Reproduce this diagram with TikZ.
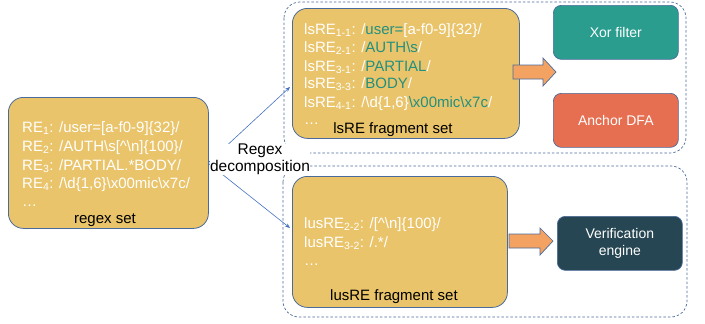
\documentclass[tikz,border=0pt]{standalone}
\usepackage{fontspec}
\setmainfont{Liberation Sans}
\usetikzlibrary{arrows.meta}
\definecolor{ybox}{HTML}{E9C46A}
\definecolor{bord}{HTML}{4A6A9B}
\definecolor{tealc}{HTML}{2A9D8F}
\definecolor{redc}{HTML}{E76F51}
\definecolor{darkc}{HTML}{264653}
\definecolor{orc}{HTML}{F4A261}
\definecolor{bluec}{HTML}{4472C4}
\definecolor{gtext}{HTML}{23907F}
\tikzset{
  ybox/.style={draw=bord, line width=0.8pt, fill=ybox, rounded corners=15pt, anchor=north west, inner sep=0pt},
  grp/.style={draw=bord, line width=0.7pt, dash pattern=on 2.5pt off 2pt, rounded corners=16pt},
  cbox/.style={draw=bord, line width=0.7pt, rounded corners=8pt, anchor=north west, minimum width=125pt, minimum height=54pt, inner sep=0pt},
  ctext/.style={text=white, font=\fontsize{14}{17}\selectfont, align=center},
  wt/.style={text=white, anchor=base west, inner sep=0pt, font=\fontsize{15}{18}\selectfont},
  lbl/.style={text=black, anchor=base, inner sep=0pt, font=\fontsize{15}{18}\selectfont},
  barrow/.style={draw=bord, line width=0.7pt, fill=orc},
  blarrow/.style={draw=bluec, line width=0.6pt, -{Stealth[length=5pt,width=4pt]}}
}
\newcommand{\gr}[1]{\textcolor{gtext}{#1}}
\newcommand{\bs}{\textbackslash}
\begin{document}
\begin{tikzpicture}[x=1pt,y=-1pt]
\useasboundingbox (0,0) rectangle (705,324);
% group boxes
\draw[grp] (284,2) rectangle (686,153);
\draw[grp] (283,166) rectangle (687,317);
% regex set
\node[ybox, minimum width=200pt, minimum height=131pt] (rs) at (8,97) {};
\node[wt] (re1) at (22,132.5) {RE\textsubscript{1}: /user=[a-f0-9]\{32\}/};
\node[wt] (re2) at (22,151.5) {RE\textsubscript{2}: /AUTH\bs s[\textasciicircum\bs n]\{100\}/};
\node[wt] (re3) at (22,170.5) {RE\textsubscript{3}: /PARTIAL.*BODY/};
\node[wt] (re4) at (22,188.5) {RE\textsubscript{4}: /\bs d\{1,6\}\bs x00mic\bs x7c/};
\node[wt] (red) at (22,206) {\dots};
\node[lbl] (rsl) at (105,223) {regex set};
% lsRE
\node[ybox, minimum width=227pt, minimum height=130pt] (ls) at (292,8) {};
\node[wt] (ls1) at (304,34.5) {lsRE\textsubscript{1-1}: /\gr{user=}[a-f0-9]\{32\}/};
\node[wt] (ls2) at (304,52.5) {lsRE\textsubscript{2-1}: /\gr{AUTH\bs s}/};
\node[wt] (ls3) at (304,71.5) {lsRE\textsubscript{3-1}: /\gr{PARTIAL}/};
\node[wt] (ls4) at (304,88.5) {lsRE\textsubscript{3-3}: /\gr{BODY}/};
\node[wt] (ls5) at (304,107.5) {lsRE\textsubscript{4-1}: /\bs d\{1,6\}\gr{\bs x00mic\bs x7c}/};
\node[wt] (lsd) at (304,124) {\dots};
\node[lbl] (lsl) at (393,133.5) {lsRE fragment set};
% lusRE
\node[ybox, minimum width=215pt, minimum height=131pt] (lu) at (292,176) {};
\node[wt] (lu1) at (304,228.5) {lusRE\textsubscript{2-2}: /[\textasciicircum\bs n]\{100\}/};
\node[wt] (lu2) at (304,247.5) {lusRE\textsubscript{3-2}: /.*/};
\node[wt] (lud) at (304,265) {\dots};
\node[lbl] (lul) at (394,300) {lusRE fragment set};
% component boxes
\node[cbox, fill=tealc] (xor) at (553,5) {};
\node[ctext] at (xor.center) {Xor filter};
\node[cbox, fill=redc] (anc) at (553,93) {};
\node[ctext] at (anc.center) {Anchor DFA};
\node[cbox, fill=darkc] (ver) at (557,216) {};
\node[ctext, font=\fontsize{14}{17.5}\selectfont] at (ver.center) {Verification\\engine};
% block arrows
\draw[barrow] (513,65) -- (543,65) -- (543,58) -- (556,72) -- (543,86) -- (543,79) -- (513,79) -- cycle;
\draw[barrow] (509,234) -- (540,234) -- (540,228) -- (553,241) -- (540,255) -- (540,248) -- (509,248) -- cycle;
% decomposition arrows
\coordinate (src) at (208,163);
\draw[blarrow] (src) -- (290,87);
\draw[blarrow] (src) -- (290,228);
\node[align=center, font=\fontsize{15.5}{17}\selectfont, fill=white, inner sep=0pt] (dec) at (260,159.5) {Regex\\decomposition};
\end{tikzpicture}
\end{document}
